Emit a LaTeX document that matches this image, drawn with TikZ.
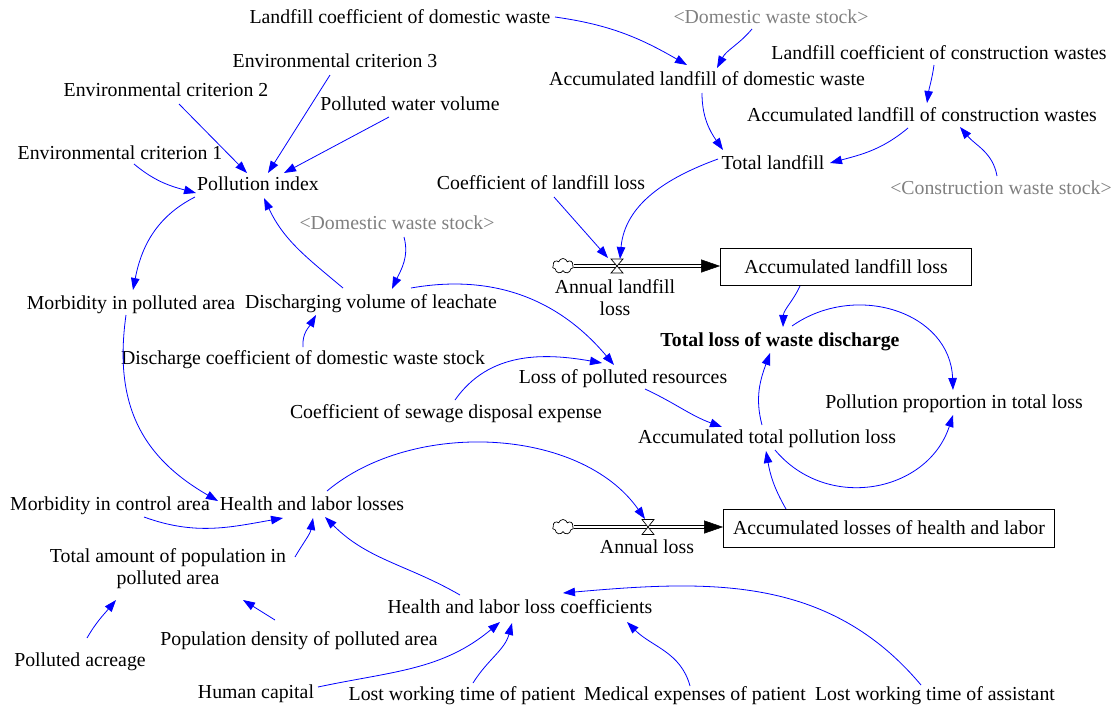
\documentclass[tikz,border=0pt]{standalone}
\usepackage{fontspec}
\setmainfont{Liberation Serif}
\usetikzlibrary{arrows.meta,calc,shapes.symbols}
\definecolor{linkblue}{RGB}{0,0,255}
\definecolor{shadowgray}{RGB}{128,128,128}

\begin{document}
\begin{tikzpicture}[x=1pt,y=1pt,
  font=\fontsize{19.8}{22}\selectfont,
  var/.style={inner sep=0pt, text height=15pt, text depth=2pt},
  shadowvar/.style={var, text=shadowgray},
  twoline/.style={inner sep=0pt, align=center},
  stock/.style={draw, line width=0.8pt, inner sep=0pt, text height=15pt, text depth=2pt},
  lk/.style={draw=linkblue, line width=0.8pt, -{Triangle[length=12pt,width=8.5pt]}},
  pipe/.style={draw=black, line width=0.9pt, double=white, double distance=2.6pt},
  pipehead/.style={-{Triangle[length=19pt,width=13pt]}, line width=0.5pt},
  valve/.style={draw=black, fill=white, line width=0.7pt, line join=miter},
  src/.style={cloud, cloud puffs=7, aspect=1.4, draw, fill=white, line width=0.7pt,
              minimum width=21pt, minimum height=15pt, inner sep=0pt}
]
\useasboundingbox (0,0) rectangle (1116,-710);

% ---------- variables ----------
\node[var] (LCD) at (400,-17) {Landfill coefficient of domestic waste};
\node[shadowvar] (DWS1) at (771,-17) {<Domestic waste stock>};
\node[var] (EC3) at (335,-61) {Environmental criterion 3};
\node[var] (LCC) at (939,-53) {Landfill coefficient of construction wastes};
\node[var] (ALD) at (707,-79) {Accumulated landfill of domestic waste};
\node[var] (EC2) at (166,-90) {Environmental criterion 2};
\node[var] (PWV) at (410,-104) {Polluted water volume};
\node[var] (ALC) at (922,-115) {Accumulated landfill of construction wastes};
\node[var] (EC1) at (120,-153) {Environmental criterion 1};
\node[var] (TL) at (773,-163) {Total landfill};
\node[var] (PI) at (258,-184) {Pollution index};
\node[var] (CLL) at (541,-183) {Coefficient of landfill loss};
\node[shadowvar] (CWS) at (1001,-188) {<Construction waste stock>};
\node[shadowvar] (DWS2) at (397,-223) {<Domestic waste stock>};
\node[var] (MPA) at (131,-303) {Morbidity in polluted area};
\node[var] (DVL) at (371,-302) {Discharging volume of leachate};
\node[var] (TLW) at (780,-340) {\textbf{Total loss of waste discharge}};
\node[var] (DCD) at (303,-358) {Discharge coefficient of domestic waste stock};
\node[var] (LPR) at (623,-377) {Loss of polluted resources};
\node[var] (PP) at (954,-402) {Pollution proportion in total loss};
\node[var] (CSD) at (446,-412) {Coefficient of sewage disposal expense};
\node[var] (ATP) at (767,-437) {Accumulated total pollution loss};
\node[var] (MCA) at (110,-504) {Morbidity in control area};
\node[var] (HLL) at (312,-504) {Health and labor losses};
\node[twoline] (TAP) at (168,-569) {Total amount of population in\\polluted area};
\node[var] (HLC) at (520,-607) {Health and labor loss coefficients};
\node[var] (PDA) at (299,-639) {Population density of polluted area};
\node[var] (PA) at (80,-660) {Polluted acreage};
\node[var] (HC) at (256,-692) {Human capital};
\node[var] (LWP) at (462,-694) {Lost working time of patient};
\node[var] (MEP) at (695,-694) {Medical expenses of patient};
\node[var] (LWA) at (935,-694) {Lost working time of assistant};

% ---------- stocks and flows ----------
\node[stock, minimum width=251pt, minimum height=37pt] (ALL) at (846,-267) {Accumulated landfill loss};
\node[stock, minimum width=331pt, minimum height=38pt] (ALH) at (889,-528) {Accumulated losses of health and labor};

\node[src] (c1) at (563,-266) {};
\node[src] (c2) at (563,-527) {};
\coordinate (v1) at (617,-266);
\coordinate (v2) at (648,-527);

\draw[pipe] (c1.east) -- ($(c1.east -| ALL.west)+(-17,0)$);
\draw[pipehead] ($(c1.east -| ALL.west)+(-19,0)$) -- (c1.east -| ALL.west);
\draw[pipe] (c2.east) -- ($(c2.east -| ALH.west)+(-17,0)$);
\draw[pipehead] ($(c2.east -| ALH.west)+(-19,0)$) -- (c2.east -| ALH.west);

\draw[valve] ($(v1)+(-6,7)$) -- ($(v1)+(6,7)$) -- ($(v1)+(-6,-7)$) -- ($(v1)+(6,-7)$) -- cycle;
\draw[valve] ($(v2)+(-6,7.5)$) -- ($(v2)+(6,7.5)$) -- ($(v2)+(-6,-7.5)$) -- ($(v2)+(6,-7.5)$) -- cycle;

\node[twoline] (AL1) at (615,-298) {Annual landfill\\loss};
\node[var] (AL2) at (647,-547) {Annual loss};

% ---------- links ----------
\draw[lk] ($(LCD)+(155,0)$) to[out=-8,in=150] ($(ALD)+(-20,14)$);
\draw[lk] ($(DWS1)+(-19,-12)$) to[out=-130,in=62] ($(ALD)+(10,11)$);
\draw[lk] ($(LCC)+(-5,-12)$) to[out=-98,in=82] ($(ALC)+(5,12)$);
\draw[lk] ($(ALD)+(-5,-14)$) to[out=-90,in=125] ($(TL)+(-50,13)$);
\draw[lk] ($(ALC)+(-14,-13)$) to[out=220,in=15] ($(TL)+(57,0)$);
\draw[lk] ($(CWS)+(-4,12)$) to[out=100,in=-50] ($(ALC)+(38,-12)$);
\draw[lk] ($(TL)+(-55,4)$) to[out=200,in=85] ($(v1)+(3,7)$);
\draw[lk] ($(CLL)+(13,-14)$) -- ($(v1)+(-9,8)$);

\draw[lk] ($(EC2)+(13,-14)$) -- ($(PI)+(-11,11)$);
\draw[lk] ($(EC3)+(-5,-14)$) -- ($(PI)+(10,11)$);
\draw[lk] ($(PWV)+(-21,-13)$) -- ($(PI)+(26,11)$);
\draw[lk] ($(EC1)+(14,-11)$) to[out=-40,in=165] ($(PI)+(-62,-9)$);
\draw[lk] ($(PI)+(-63,-13)$) to[out=207,in=79] ($(MPA)+(2,13)$);
\draw[lk] ($(DVL)+(-28,14)$) to[out=140,in=-65] ($(PI)+(6,-14)$);
\draw[lk] ($(DWS2)+(7,-14)$) to[out=-75,in=65] ($(DVL)+(21,13)$);
\draw[lk] ($(DCD)+(0,11)$) to[out=95,in=-120] ($(DVL)+(-55,-13)$);
\draw[lk] ($(DVL)+(40,14)$) to[out=10,in=130] ($(LPR)+(-9,12)$);
\draw[lk] ($(CSD)+(9,12)$) to[out=55,in=170] ($(LPR)+(-21,14)$);
\draw[lk] ($(LPR)+(22,-12)$) to[out=-25,in=160] ($(ATP)+(-45,10)$);

\draw[lk] ($(ALL)+(-46,-19)$) to[out=-115,in=88] ($(TLW)+(3,13)$);
\draw[lk] ($(TLW)+(12,14)$) to[out=35,in=92,looseness=1.15] ($(PP)+(-1,12)$);
\draw[lk] ($(ATP)+(8,-13)$) to[out=-50,in=-108,looseness=1.15] ($(PP)+(-1,-13)$);
\draw[lk] ($(ATP)+(-5,12)$) to[out=105,in=-110] ($(TLW)+(-10,-13)$);
\draw[lk] ($(ALH)+(-103,19)$) to[out=120,in=-80] ($(ATP)+(-1,-14)$);

\draw[lk] ($(MPA)+(-5,-12)$) to[out=-98,in=150,looseness=1.1] ($(HLL)+(-94,3)$);
\draw[lk] ($(HLL)+(15,13)$) to[out=40,in=125,looseness=0.9] ($(v2)+(-3,8)$);
\draw[lk] ($(MCA)+(34,-13)$) to[out=-20,in=190] ($(HLL)+(-29,-14)$);
\draw[lk] ($(TAP)+(127,12)$) to[out=60,in=-100] ($(HLL)+(1,-14)$);
\draw[lk] ($(HLC)+(-60,12)$) to[out=150,in=-45] ($(HLL)+(13,-13)$);
\draw[lk] ($(PA)+(7,22)$) to[out=60,in=-130] ($(TAP)+(-52,-31)$);
\draw[lk] ($(PDA)+(-24,19)$) -- ($(TAP)+(75,-31)$);
\draw[lk] ($(HC)+(62,5)$) to[out=12,in=-140] ($(HLC)+(-20,-15)$);
\draw[lk] ($(LWP)+(11,11)$) to[out=58,in=-105] ($(HLC)+(-8,-16)$);
\draw[lk] ($(MEP)+(-5,8)$) to[out=105,in=-45] ($(HLC)+(107,-15)$);
\draw[lk] ($(LWA)+(-14,9)$) to[out=130,in=5] ($(HLC)+(43,14)$);
\end{tikzpicture}
\end{document}
